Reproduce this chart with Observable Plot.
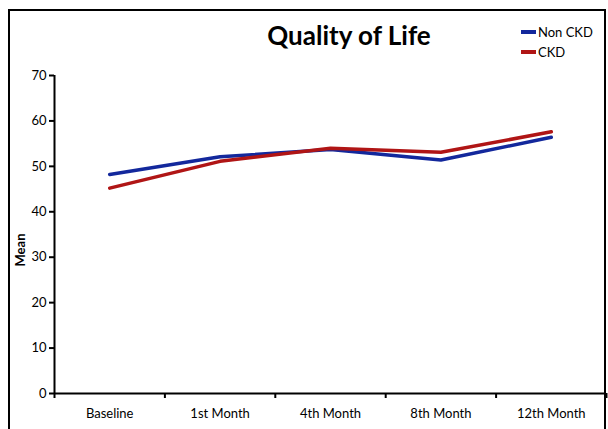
<!DOCTYPE html>
<html><head><meta charset="utf-8">
<script src="https://cdn.jsdelivr.net/npm/d3@7"></script>
<script src="https://cdn.jsdelivr.net/npm/@observablehq/plot@0.6"></script>
<style>
html,body{margin:0;padding:0;background:#fff;}
#wrap{position:relative;width:608px;height:429px;overflow:hidden;}
#frame{position:absolute;left:8px;top:9px;width:598px;height:440px;border:2.5px solid #000;box-sizing:border-box;pointer-events:none;}
</style></head>
<body><div id="wrap"><div id="frame"></div></div>
<script>
const categories = ["Baseline", "1st Month", "4th Month", "8th Month", "12th Month"];
const nonCKD = [48.2, 52.1, 53.7, 51.4, 56.4];
const ckd = [45.2, 51.1, 54.0, 53.1, 57.6];
const seriesNames = ["Non CKD", "CKD"];
const seriesColors = ["#13289c", "#b01515"];
const yTicks = [0, 10, 20, 30, 40, 50, 60, 70];

const data = [];
categories.forEach((c, i) => {
  data.push({cat: c, i, value: nonCKD[i], series: seriesNames[0]});
  data.push({cat: c, i, value: ckd[i], series: seriesNames[1]});
});
const font = "Lato, 'Open Sans', sans-serif";

const chart = Plot.plot({
  width: 608, height: 429,
  marginLeft: 54, marginRight: 2, marginTop: 75, marginBottom: 36,
  style: {fontFamily: font, fontSize: "13px", color: "#000", background: "transparent"},
  x: {type: "linear", domain: [0, categories.length]},
  y: {domain: [0, 70]},
  color: {domain: seriesNames, range: seriesColors},
  marks: [
    Plot.ruleY([0], {stroke: "#000", strokeWidth: 2}),
    Plot.ruleX([0], {stroke: "#000", strokeWidth: 2}),
    Plot.axisY({ticks: yTicks, tickSize: 5, tickPadding: 3, strokeWidth: 2, label: null, fontSize: 13}),
    Plot.axisX({ticks: d3.range(categories.length + 1), tickSize: 5, strokeWidth: 2, tickFormat: () => "", label: null}),
    Plot.axisX({ticks: categories.map((c, i) => i + 0.5), tickSize: 0, tickPadding: 15, tickFormat: v => categories[Math.round(v - 0.5)], label: null, fontSize: 13}),
    Plot.line(data, {x: d => d.i + 0.5, y: "value", z: "series", stroke: "series", strokeWidth: 3.5})
  ]
});
document.getElementById("wrap").appendChild(chart);

const svg = d3.select(chart);
svg.append("text").attr("x", 349).attr("y", 45).attr("text-anchor", "middle")
  .attr("font-family", font).attr("font-weight", "bold").attr("font-size", 26).text("Quality of Life");
svg.append("text").attr("transform", "translate(25,250) rotate(-90)").attr("text-anchor", "middle")
  .attr("font-family", font).attr("font-weight", "bold").attr("font-size", 13).text("Mean");
seriesNames.forEach((s, k) => {
  const y = 32 + k * 20;
  svg.append("rect").attr("x", 521).attr("y", y - 2).attr("width", 15).attr("height", 4).attr("fill", seriesColors[k]);
  svg.append("text").attr("x", 538).attr("y", y + 5).attr("text-anchor", "start")
    .attr("font-family", font).attr("font-size", 13).text(s);
});
</script></body></html>
